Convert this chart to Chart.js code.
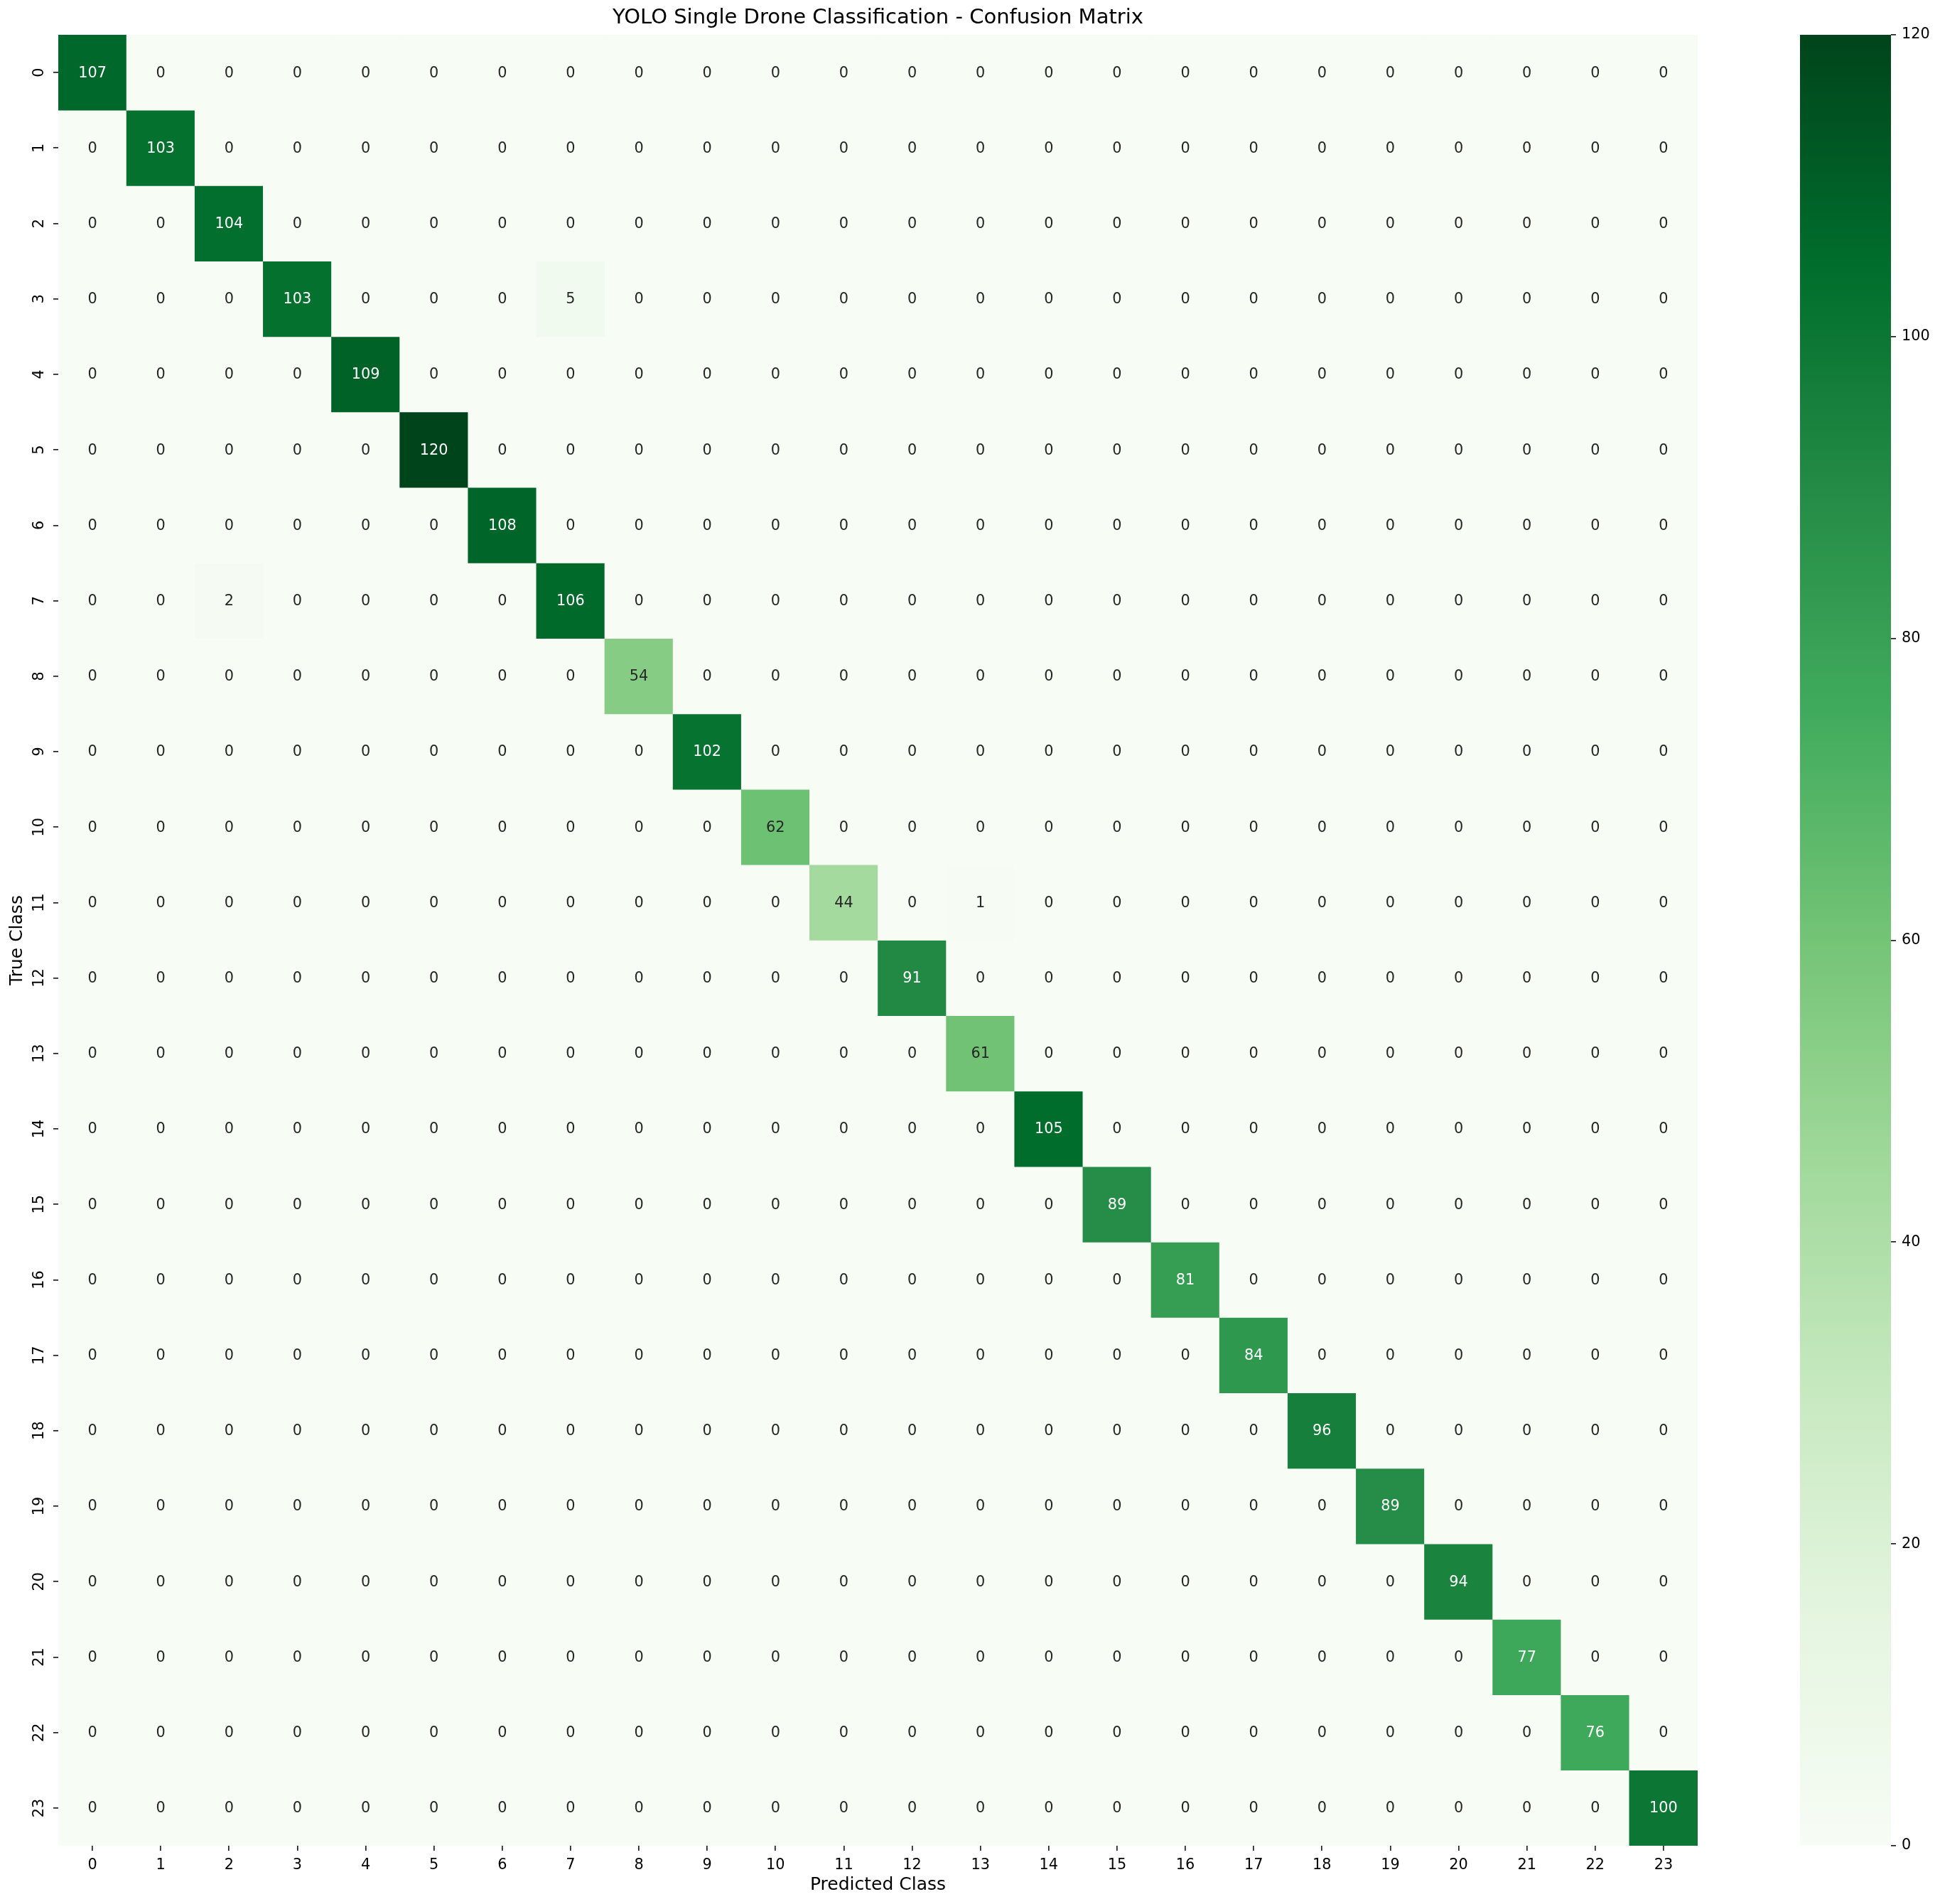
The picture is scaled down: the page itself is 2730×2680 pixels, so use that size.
<!DOCTYPE html>
<html>
<head>
<meta charset="utf-8">
<script src="https://cdn.jsdelivr.net/npm/chart.js@4/dist/chart.umd.min.js"></script>
<style>
  html, body { margin: 0; padding: 0; background: #ffffff; }
  #wrap { position: relative; width: 2730px; height: 2680px; background: #ffffff; }
  #main { position: absolute; left: 0; top: 0; }
  #cbar { position: absolute; left: 2400px; top: 0; }
</style>
</head>
<body>
<div id="wrap">
  <canvas id="main" width="2730" height="2680"></canvas>
  <canvas id="cbar" width="330" height="2680"></canvas>
</div>
<script>
// ---------------- DATA ----------------
const classLabels = ['0','1','2','3','4','5','6','7','8','9','10','11','12','13','14','15','16','17','18','19','20','21','22','23'];
const correctCounts = [107,103,104,103,109,120,108,106,54,102,62,44,91,61,105,89,81,84,96,89,94,77,76,100];
// [true class index, predicted class index, count]
const misclassified = [[3,7,5],[7,2,2],[11,13,1]];
const colorbarTicks = [0,20,40,60,80,100,120];
const colorMin = 0;
const colorMax = 120;
const chartTitle = 'YOLO Single Drone Classification - Confusion Matrix';
const xTitle = 'Predicted Class';
const yTitle = 'True Class';

// ---------------- BUILD MATRIX ----------------
const n = classLabels.length;
const matrix = classLabels.map((_, r) => classLabels.map((_, c) => (r === c ? correctCounts[r] : 0)));
misclassified.forEach(([r, c, v]) => { matrix[r][c] = v; });

// Matplotlib "Greens" colormap anchors
const greens = ['#f7fcf5','#e5f5e0','#c7e9c0','#a1d99b','#74c476','#41ab5d','#238b45','#006d2c','#00441b'];
function hex2rgb(h) { return [parseInt(h.slice(1,3),16), parseInt(h.slice(3,5),16), parseInt(h.slice(5,7),16)]; }
const greensRGB = greens.map(hex2rgb);
function cmap(v) {
  let t = (v - colorMin) / (colorMax - colorMin);
  t = Math.max(0, Math.min(1, t));
  const pos = t * (greensRGB.length - 1);
  const i = Math.min(Math.floor(pos), greensRGB.length - 2);
  const f = pos - i;
  const a = greensRGB[i], b = greensRGB[i + 1];
  return [0,1,2].map(k => Math.round(a[k] + (b[k] - a[k]) * f));
}
function rgbStr(c) { return 'rgb(' + c[0] + ',' + c[1] + ',' + c[2] + ')'; }
function luminance(c) {
  const lin = c.map(x => { x /= 255; return x <= 0.03928 ? x / 12.92 : Math.pow((x + 0.055) / 1.055, 2.4); });
  return 0.2126 * lin[0] + 0.7152 * lin[1] + 0.0722 * lin[2];
}

const FONT = 'DejaVu Sans';
Chart.defaults.font.family = FONT;
Chart.defaults.color = '#000000';

const datasets = matrix.map((row, r) => ({
  label: 'True ' + classLabels[r],
  data: row.map(() => [r - 0.5, r + 0.5]),
  backgroundColor: row.map(v => rgbStr(cmap(v))),
  borderWidth: 0,
  grouped: false,
  barPercentage: 1,
  categoryPercentage: 1
}));

const annotatePlugin = {
  id: 'annotate',
  afterDatasetsDraw(chart) {
    const ctx = chart.ctx;
    const xs = chart.scales.x, ys = chart.scales.y;
    ctx.save();
    ctx.font = '20.8px "' + FONT + '"';
    ctx.textAlign = 'center';
    ctx.textBaseline = 'middle';
    matrix.forEach((row, r) => {
      row.forEach((v, c) => {
        const col = cmap(v);
        ctx.fillStyle = luminance(col) > 0.408 ? '#262626' : '#ffffff';
        ctx.fillText(String(v), xs.getPixelForValue(c), ys.getPixelForValue(r) + 1);
      });
    });
    ctx.restore();
  }
};

new Chart(document.getElementById('main'), {
  type: 'bar',
  data: { labels: classLabels, datasets },
  plugins: [annotatePlugin],
  options: {
    responsive: false,
    animation: false,
    devicePixelRatio: 1,
    layout: { padding: { left: 0, right: 341, top: 0, bottom: 0 } },
    plugins: {
      legend: { display: false },
      tooltip: { enabled: false },
      title: {
        display: true,
        text: chartTitle,
        fullSize: false,
        color: '#000000',
        font: { family: FONT, size: 29, weight: 'normal', lineHeight: 1.2 },
        padding: { top: 8, bottom: 6.2 }
      }
    },
    scales: {
      x: {
        type: 'category',
        offset: true,
        grid: { display: true, drawOnChartArea: false, drawTicks: true, tickLength: 7, offset: false, color: '#222222', lineWidth: 1.7 },
        border: { display: false },
        ticks: { color: '#000000', font: { family: FONT, size: 20.8 }, padding: 8, maxRotation: 0, minRotation: 0, autoSkip: false },
        title: { display: true, text: xTitle, color: '#000000', font: { family: FONT, size: 25, lineHeight: 1.2 }, padding: { top: 0, bottom: 12 } },
        afterFit(scale) { scale.height = 82; }
      },
      y: {
        type: 'linear',
        reverse: true,
        min: -0.5,
        max: n - 0.5,
        grid: { display: true, drawOnChartArea: false, drawTicks: true, tickLength: 7, color: '#222222', lineWidth: 1.7 },
        border: { display: false },
        afterBuildTicks(scale) { scale.ticks = classLabels.map((_, i) => ({ value: i })); },
        ticks: {
          color: '#000000',
          font: { family: FONT, size: 20.8 },
          padding: 6,
          minRotation: 90,
          maxRotation: 90,
          crossAlign: 'center',
          autoSkip: false,
          callback: (v) => classLabels[v]
        },
        title: { display: true, text: yTitle, color: '#000000', font: { family: FONT, size: 25, lineHeight: 1.2 }, padding: { top: 9, bottom: 0 } },
        afterFit(scale) { scale.width = 82; }
      }
    }
  }
});

// ---------------- COLORBAR ----------------
new Chart(document.getElementById('cbar'), {
  type: 'bar',
  data: {
    labels: ['colorbar'],
    datasets: [{
      data: [[colorMin, colorMax]],
      borderWidth: 0,
      barPercentage: 1,
      categoryPercentage: 1,
      backgroundColor(ctx) {
        const a = ctx.chart.chartArea;
        if (!a) return greens[4];
        const g = ctx.chart.ctx.createLinearGradient(0, a.bottom, 0, a.top);
        greens.forEach((c, i) => g.addColorStop(i / (greens.length - 1), c));
        return g;
      }
    }]
  },
  options: {
    responsive: false,
    animation: false,
    devicePixelRatio: 1,
    layout: { padding: { left: 133, right: 0, top: 49, bottom: 82 } },
    plugins: { legend: { display: false }, tooltip: { enabled: false }, title: { display: false } },
    scales: {
      x: { display: false },
      y: {
        type: 'linear',
        position: 'right',
        min: colorMin,
        max: colorMax,
        grid: { display: true, drawOnChartArea: false, drawTicks: true, tickLength: 7, color: '#222222', lineWidth: 1.7 },
        border: { display: false },
        afterBuildTicks(scale) { scale.ticks = colorbarTicks.map(v => ({ value: v })); },
        ticks: { color: '#000000', font: { family: FONT, size: 20.8 }, padding: 8 },
        afterFit(scale) { scale.width = 69; }
      }
    }
  }
});
</script>
</body>
</html>
